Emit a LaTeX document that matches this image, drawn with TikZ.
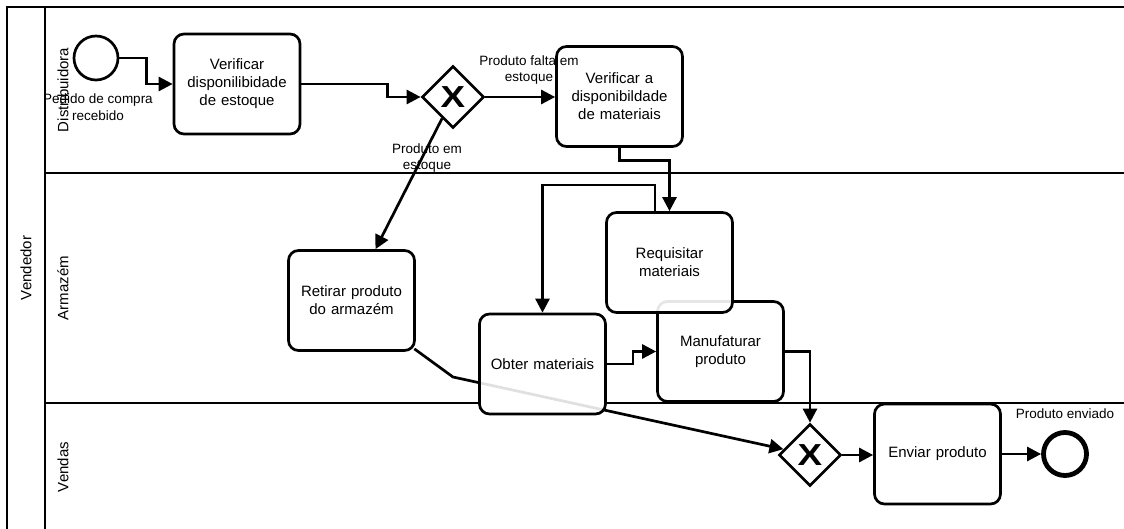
\documentclass[tikz,border=0pt]{standalone}
\usepackage{fontspec}
\setmainfont{Liberation Sans}
\usetikzlibrary{arrows.meta,shapes.geometric}
\pgfdeclarelayer{bg}
\pgfsetlayers{bg,main}

\tikzset{
  lane/.style={line width=2.7pt, line cap=rect},
  task/.style={draw, line width=2.7pt, rounded corners=10pt, fill=white,
    align=center, minimum width=126pt, minimum height=100pt, inner sep=0pt,
    text width=120pt, font=\fontsize{15}{18}\selectfont},
  gateway/.style={draw, diamond, aspect=1, line width=2.7pt, fill=white,
    minimum width=62pt, minimum height=62pt, inner sep=0pt,
    font=\fontsize{32}{32}\selectfont\bfseries},
  startev/.style={draw, circle, line width=2.7pt, fill=white,
    minimum size=44pt, inner sep=0pt},
  endev/.style={draw, circle, line width=4.8pt, fill=white,
    minimum size=43pt, inner sep=0pt},
  flow/.style={line width=2.7pt, -{Triangle[length=14pt,width=14pt]}},
  lbl/.style={align=center, inner sep=0pt, font=\fontsize{13.5}{16.5}\selectfont},
  lanetitle/.style={rotate=90, inner sep=0pt, font=\fontsize{15}{18}\selectfont},
}

\begin{document}
\begin{tikzpicture}[x=1pt, y=-1pt]
  \clip (0,0) rectangle (1124,529);

  % flow nodes
  \node[startev] (s) at (96,58) {};
  \node[task] (v1) at (237,84) {Verificar\\disponilibidade\\de estoque};
  \node[gateway] (g1) at (453,97) {\scalebox{1.15}[0.95]{X}};
  \node[task] (v2) at (619.5,96.5) {Verificar a\\disponibildade\\de materiais};
  \node[task] (ret) at (351.5,300.5) {Retirar produto\\do armazém};
  \node[gateway] (g2) at (810,455) {\scalebox{1.15}[0.95]{X}};
  \node[task] (env) at (937.5,454) {Enviar produto};
  \node[endev] (e) at (1065,454) {};

  % sequence flows
  \draw[flow] (s.east) -- ++(27,0) |- (v1.west);
  \draw[flow] (v1.east) -- ++(86,0) |- (g1.west);
  \draw[flow] (g1.east) -- (g1.east -| v2.west);
  \draw[flow] (g1) -- ([xshift=24pt]ret.north);
  \coordinate (bend) at (453,377);
  \draw[flow] ([shift={(-1.5,-3)}]ret.south east) -- (bend) -- (g2);

  % overlapping warehouse tasks
  \node[task] (man) at (720.5,351.5) {Manufaturar\\produto};
  \node[task, fill opacity=0.88, text opacity=1] (obt) at (542.5,364) {Obter materiais};
  \node[task, fill opacity=0.9, text opacity=1] (req) at (669.5,262.5) {Requisitar\\materiais};

  \draw[flow] (v2.south) -- ++(0,13) -| (req.north);
  \draw[flow] ([xshift=-14.5pt]req.north) -- ++(0,-26) -| (obt.north);
  \draw[flow] (obt.east) -- ++(26,0) |- (man.west);
  \draw[flow] (man.east) -| (g2.north);
  \draw[flow] (g2.east) -- (g2.east -| env.west);
  \draw[flow] (env.east) -- (e.west);

  % labels
  \node[lbl] (ls) at (98,107) {Pedido de compra\\recebido};
  \node[lbl] (lf) at (529,70) {Produto falta em\\estoque};
  \node[lbl] (le) at (427,158) {Produto em\\estoque};
  \node[lbl] (lend) at (1065,414) {Produto enviado};

  % pool and lanes, behind everything
  \begin{pgfonlayer}{bg}
    \fill[white] (0,0) rectangle (1124,529);
    \draw[lane] (1140,7) -- (7,7) -- (7,545);
    \draw[lane] (45,7) -- (45,545);
    \draw[lane] (45,173) -- (1140,173);
    \draw[lane] (45,403) -- (1140,403);
    \fill[white, rounded corners=10pt] (obt.north west) rectangle (obt.south east);
  \end{pgfonlayer}
  \node[lanetitle] (pool) at (26,268) {Vendedor};
  \node[lanetitle] (laneA) at (63,90) {Distribuidora};
  \node[lanetitle] (laneB) at (63,288) {Armazém};
  \node[lanetitle] (laneC) at (63,467) {Vendas};
\end{tikzpicture}
\end{document}
